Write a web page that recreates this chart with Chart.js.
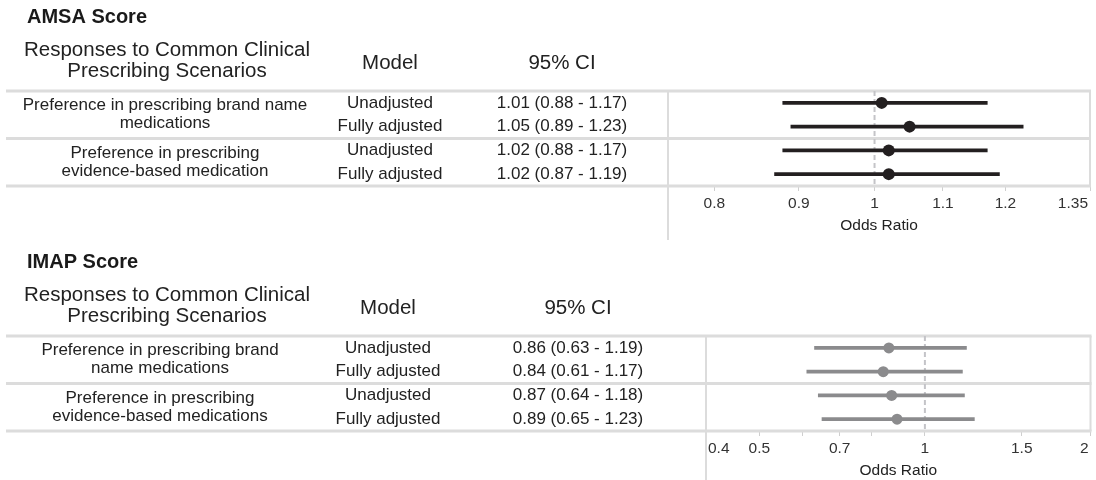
<!DOCTYPE html>
<html>
<head>
<meta charset="utf-8">
<script src="https://cdn.jsdelivr.net/npm/chart.js@4.4.1/dist/chart.umd.min.js"></script>
<style>
  html, body { margin: 0; padding: 0; background: #fff; }
  .panel { position: relative; width: 1096px; height: 240px; }
</style>
</head>
<body>
<div class="panel"><canvas id="amsaChart"></canvas></div>
<div class="panel"><canvas id="imapChart"></canvas></div>
<script>
// Linhas da tabela (4 por painel)
const rowIds = ['r1', 'r2', 'r3', 'r4'];
const models = ['Unadjusted', 'Fully adjusted', 'Unadjusted', 'Fully adjusted'];

// AMSA Score
const amsaScenarios = [['Preference in prescribing brand name', 'medications'], ['Preference in prescribing', 'evidence-based medication']];
const amsaOR = [1.01, 1.05, 1.02, 1.02];
const amsaLow = [0.88, 0.89, 0.88, 0.87];
const amsaHigh = [1.17, 1.23, 1.17, 1.19];
const amsaTicks = [0.8, 0.9, 1, 1.1, 1.2, 1.35];
const amsaMinorTicks = [];

// IMAP Score
const imapScenarios = [['Preference in prescribing brand', 'name medications'], ['Preference in prescribing', 'evidence-based medications']];
const imapOR = [0.86, 0.84, 0.87, 0.89];
const imapLow = [0.63, 0.61, 0.64, 0.65];
const imapHigh = [1.19, 1.17, 1.18, 1.23];
const imapTicks = [0.4, 0.5, 0.7, 1, 1.5, 2];
const imapMinorTicks = [0.6, 0.8];

const FONT = '"Liberation Sans", Arial, sans-serif';
const LINE = '#dcdcdc';

function txt(ctx, s, x, y, font, align, color) {
  ctx.font = font;
  ctx.textAlign = align || 'center';
  ctx.textBaseline = 'middle';
  ctx.fillStyle = color || '#222';
  ctx.fillText(s, x, y);
}

// Plugin que desenha a tabela, as linhas e os rótulos do eixo
function tablePlugin(cfg) {
  return {
    id: 'forestTable',
    beforeDatasetsDraw(chart) {
      const ctx = chart.ctx, a = chart.chartArea, y = chart.scales.y, x = chart.scales.x;
      const mid = (y.getPixelForValue(1) + y.getPixelForValue(2)) / 2;
      ctx.save();
      ctx.strokeStyle = LINE;
      ctx.lineWidth = 3;
      [a.top, mid, a.bottom].forEach(py => {
        ctx.beginPath(); ctx.moveTo(6, py); ctx.lineTo(a.right + 1, py); ctx.stroke();
      });
      ctx.lineWidth = 2;
      ctx.beginPath();
      ctx.moveTo(a.left, a.top); ctx.lineTo(a.left, chart.height);
      ctx.moveTo(a.right, a.top); ctx.lineTo(a.right, a.bottom);
      ctx.stroke();
      // linha de referência OR = 1
      const x1 = x.getPixelForValue(1);
      ctx.strokeStyle = '#c4c4c8';
      ctx.setLineDash([5, 3]);
      ctx.beginPath(); ctx.moveTo(x1, a.top); ctx.lineTo(x1, a.bottom); ctx.stroke();
      ctx.restore();
    },
    afterDraw(chart) {
      const ctx = chart.ctx, a = chart.chartArea, y = chart.scales.y, x = chart.scales.x;
      ctx.save();
      const body = '17px ' + FONT, head = '20.5px ' + FONT;
      txt(ctx, cfg.title, 27, a.top - 74, 'bold 20px ' + FONT, 'left', '#1a1a1a');
      txt(ctx, 'Responses to Common Clinical', 167, a.top - 41, head);
      txt(ctx, 'Prescribing Scenarios', 167, a.top - 20, head);
      txt(ctx, 'Model', cfg.modelX, a.top - 28, head);
      txt(ctx, '95% CI', cfg.ciX, a.top - 28, head);

      cfg.scenarios.forEach((lines, g) => {
        const cy = (y.getPixelForValue(g * 2) + y.getPixelForValue(g * 2 + 1)) / 2;
        txt(ctx, lines[0], cfg.scenX, cy - 9, body);
        txt(ctx, lines[1], cfg.scenX, cy + 9, body);
      });
      cfg.or.forEach((v, i) => {
        const py = y.getPixelForValue(i);
        txt(ctx, models[i], cfg.modelX, py, body);
        const ci = v.toFixed(2) + ' (' + cfg.low[i].toFixed(2) + ' - ' + cfg.high[i].toFixed(2) + ')';
        txt(ctx, ci, cfg.ciX, py, body);
      });

      // rótulos dos ticks
      const tf = '15.5px ' + FONT;
      ctx.font = tf;
      cfg.ticks.forEach(t => {
        const px = x.getPixelForValue(t);
        const w = ctx.measureText(String(t)).width;
        let align = 'center', tx = px;
        if (px - w / 2 < a.left) { align = 'left'; tx = a.left + 2; }
        else if (px + w / 2 > a.right) { align = 'right'; tx = a.right - 2; }
        txt(ctx, String(t), tx, a.bottom + 18, tf, align, '#333');
      });
      txt(ctx, 'Odds Ratio', (a.left + a.right) / 2, a.bottom + 40, tf, 'center', '#222');
      ctx.restore();
    }
  };
}

function buildForest(id, cfg) {
  const allTicks = cfg.ticks.concat(cfg.minor).sort((p, q) => p - q);
  return new Chart(document.getElementById(id), {
    type: 'bar',
    data: {
      labels: rowIds,
      datasets: [
        {
          type: 'line', indexAxis: 'y', data: cfg.or, showLine: false,
          pointRadius: cfg.radius, pointHoverRadius: cfg.radius, pointBorderWidth: 0,
          pointBackgroundColor: cfg.color, pointBorderColor: cfg.color, order: 1
        },
        {
          type: 'bar', indexAxis: 'y', data: cfg.low.map((l, i) => [l, cfg.high[i]]),
          backgroundColor: cfg.color, barThickness: 3, order: 2
        }
      ]
    },
    options: {
      indexAxis: 'y',
      responsive: true,
      maintainAspectRatio: false,
      animation: false,
      layout: { padding: { left: cfg.left, right: 1096 - cfg.right, top: cfg.top, bottom: 0 } },
      plugins: { legend: { display: false }, tooltip: { enabled: false } },
      scales: {
        y: { type: 'category', display: false, offset: true },
        x: {
          type: 'logarithmic', min: cfg.min, max: cfg.max, bounds: 'data',
          afterBuildTicks: s => { s.ticks = allTicks.map(v => ({ value: v })); },
          afterFit: s => { s.height = cfg.axisHeight; },
          ticks: { display: false },
          grid: { drawOnChartArea: false, drawTicks: true, tickLength: 5, color: '#cfcfcf', lineWidth: 1 },
          border: { display: false }
        }
      }
    },
    plugins: [tablePlugin(cfg)]
  });
}

buildForest('amsaChart', {
  title: 'AMSA Score', scenarios: amsaScenarios,
  or: amsaOR, low: amsaLow, high: amsaHigh, ticks: amsaTicks, minor: amsaMinorTicks,
  min: 0.75, max: 1.35, color: '#231f20', radius: 6,
  left: 668, right: 1093, top: 91, axisHeight: 54,
  scenX: 165, modelX: 390, ciX: 562
});

buildForest('imapChart', {
  title: 'IMAP Score', scenarios: imapScenarios,
  or: imapOR, low: imapLow, high: imapHigh, ticks: imapTicks, minor: imapMinorTicks,
  min: 0.4, max: 2, color: '#8b8b8d', radius: 5.5,
  left: 706, right: 1094, top: 96, axisHeight: 49,
  scenX: 160, modelX: 388, ciX: 578
});
</script>
</body>
</html>
